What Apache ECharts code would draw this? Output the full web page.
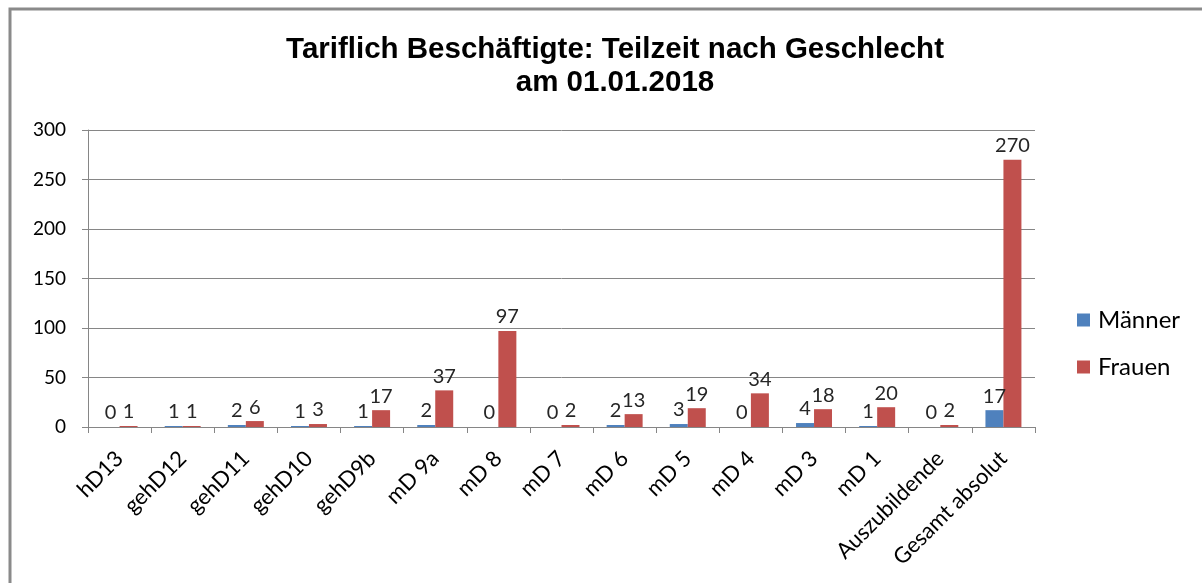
<!DOCTYPE html>
<html>
<head>
<meta charset="utf-8">
<script src="https://cdn.jsdelivr.net/npm/echarts@6/dist/echarts.min.js"></script>
<style>
html,body{margin:0;padding:0;background:#fff;}
#chart{width:1202px;height:583px;}
</style>
</head>
<body>
<div id="chart"></div>
<script>
var categories = ['hD13','gehD12','gehD11','gehD10','gehD9b','mD 9a','mD 8','mD 7','mD 6','mD 5','mD 4','mD 3','mD 1','Auszubildende','Gesamt absolut'];
var maenner = [0,1,2,1,1,2,0,0,2,3,0,4,1,0,17];
var frauen = [1,1,6,3,17,37,97,2,13,19,34,18,20,2,270];
var yTicks = [0,50,100,150,200,250,300];

var chart = echarts.init(document.getElementById('chart'));
var labelStyle = {show:true, position:'top', distance:4, color:'#262626', fontFamily:'Lato', fontSize:20};
chart.setOption({
  animation:false,
  backgroundColor:'#fff',
  graphic:[{type:'polyline', shape:{points:[[10,583],[10,9],[1202,9]]}, style:{stroke:'#8a8a8a', lineWidth:3, fill:null}}],
  title:{
    text:'Tariflich Beschäftigte: Teilzeit nach Geschlecht\nam 01.01.2018',
    left:610, top:28, textAlign:'center',
    textStyle:{fontFamily:'Liberation Sans', fontWeight:'bold', fontSize:29.5, lineHeight:33, color:'#000'}
  },
  legend:{
    orient:'vertical', left:1072, top:303, itemWidth:13, itemHeight:13, itemGap:23,
    icon:'rect',
    textStyle:{fontFamily:'Lato', fontSize:24, color:'#000', padding:[0,0,0,3]},
    data:['Männer','Frauen']
  },
  grid:{left:88, right:167, top:130, bottom:156},
  xAxis:{
    type:'category', data:categories,
    axisLine:{lineStyle:{color:'#868686', width:1}},
    axisTick:{show:true, length:6, lineStyle:{color:'#868686'}},
    axisLabel:{rotate:45, margin:28, interval:0, color:'#000', fontFamily:'Lato', fontSize:22}
  },
  yAxis:{
    type:'value', min:yTicks[0], max:yTicks[yTicks.length-1], interval:50,
    axisLine:{show:true, lineStyle:{color:'#868686'}},
    axisTick:{show:true, length:6, lineStyle:{color:'#868686'}},
    splitLine:{lineStyle:{color:'#868686', width:1}},
    axisLabel:{margin:22, color:'#000', fontFamily:'Lato', fontSize:19}
  },
  series:[
    {name:'Männer', type:'bar', data:maenner, barGap:'0%', barCategoryGap:'43%',
     itemStyle:{color:'#4F81BD'}, label:labelStyle},
    {name:'Frauen', type:'bar', data:frauen, barGap:'0%', barCategoryGap:'43%',
     itemStyle:{color:'#C0504D'}, label:labelStyle}
  ]
});
</script>
</body>
</html>
